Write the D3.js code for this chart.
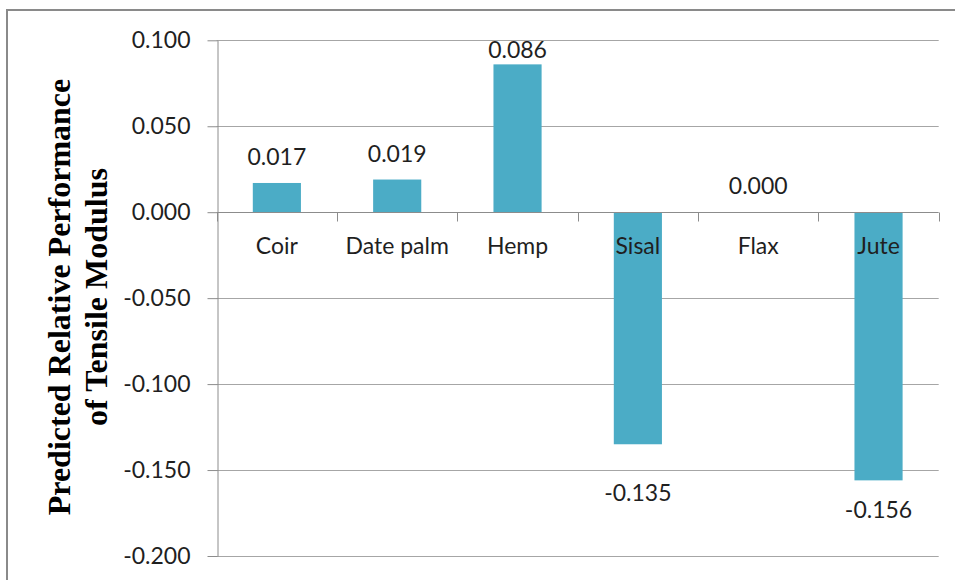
<!DOCTYPE html>
<html>
<head>
<meta charset="utf-8">
<script src="https://cdn.jsdelivr.net/npm/d3@7"></script>
<style>
  html, body { margin: 0; padding: 0; background: #fff; }
  svg { display: block; }
</style>
</head>
<body>
<svg id="chart" width="955" height="580"></svg>
<script>
// Fibre types and their predicted relative performance of tensile modulus
const categories = ["Coir", "Date palm", "Hemp", "Sisal", "Flax", "Jute"];
const values = [0.017, 0.019, 0.086, -0.135, 0.000, -0.156];
const yTicks = [0.100, 0.050, 0.000, -0.050, -0.100, -0.150, -0.200];
const titleLines = ["Predicted Relative Performance", "of Tensile Modulus"];

const W = 955, H = 580;
const plot = { left: 216.7, right: 938.7, top: 40.3, bottom: 556 };
const barColor = "#4bacc6";
const gridColor = "#a6a6a6";
const axisColor = "#8c8c8c";
const textColor = "#1f1f1f";
const labelFont = "Lato, 'Open Sans', sans-serif";

// Extra downward shift for a label that would otherwise sit on a gridline
const labelNudge = { "Sisal": 19 };

const svg = d3.select("#chart");

// Outer chart frame
svg.append("rect")
  .attr("x", 7).attr("y", 10)
  .attr("width", W).attr("height", H)
  .attr("fill", "none")
  .attr("stroke", "#8a8a8a")
  .attr("stroke-width", 2);

const x = d3.scaleBand()
  .domain(categories)
  .range([plot.left, plot.right])
  .paddingInner(0.6)
  .paddingOuter(0.3);

const y = d3.scaleLinear()
  .domain([-0.2, 0.1])
  .range([plot.bottom, plot.top]);

const fmt = v => d3.format(".3f")(Math.abs(v) < 1e-9 ? 0 : v).replace("\u2212", "-");

// Horizontal gridlines
svg.append("g")
  .selectAll("line")
  .data(yTicks.filter(t => t !== 0))
  .join("line")
  .attr("x1", plot.left).attr("x2", plot.right)
  .attr("y1", d => Math.round(y(d)) + 0.5)
  .attr("y2", d => Math.round(y(d)) + 0.5)
  .attr("stroke", gridColor)
  .attr("stroke-width", 1);

// Bars
const data = categories.map((c, i) => ({ cat: c, val: values[i] }));
svg.append("g")
  .selectAll("rect")
  .data(data)
  .join("rect")
  .attr("x", d => x(d.cat))
  .attr("width", x.bandwidth())
  .attr("y", d => Math.min(y(d.val), y(0)))
  .attr("height", d => Math.abs(y(d.val) - y(0)))
  .attr("fill", barColor);

// Y axis
const yAxis = d3.axisLeft(y)
  .tickValues(yTicks)
  .tickFormat(fmt)
  .tickSize(10)
  .tickSizeOuter(0)
  .tickPadding(17);

const gy = svg.append("g")
  .attr("transform", `translate(${Math.round(plot.left) + 0.5},0)`)
  .call(yAxis);
gy.select(".domain").attr("stroke", axisColor);
gy.selectAll(".tick line").attr("stroke", axisColor);
gy.selectAll(".tick text")
  .attr("fill", textColor)
  .style("font-family", labelFont)
  .style("font-size", "23px");

// X axis along zero with tick marks between categories
const zeroY = Math.round(y(0)) + 0.5;
svg.append("line")
  .attr("x1", plot.left).attr("x2", plot.right)
  .attr("y1", zeroY).attr("y2", zeroY)
  .attr("stroke", axisColor);

const step = x.step();
svg.append("g")
  .selectAll("line")
  .data(d3.range(categories.length + 1))
  .join("line")
  .attr("x1", i => Math.round(plot.left + i * step) + 0.5)
  .attr("x2", i => Math.round(plot.left + i * step) + 0.5)
  .attr("y1", zeroY)
  .attr("y2", zeroY + 9)
  .attr("stroke", axisColor);

// Value labels
svg.append("g")
  .selectAll("text")
  .data(data)
  .join("text")
  .attr("x", d => x(d.cat) + x.bandwidth() / 2)
  .attr("y", d => d.val >= 0
    ? Math.max(y(d.val) - 18, plot.top + 17.5)
    : y(d.val) + 38 + (labelNudge[d.cat] || 0))
  .attr("text-anchor", "middle")
  .attr("fill", textColor)
  .style("font-family", labelFont)
  .style("font-size", "23px")
  .text(d => fmt(d.val));

// Category labels, drawn over the bars
svg.append("g")
  .selectAll("text")
  .data(categories)
  .join("text")
  .attr("x", d => x(d) + x.bandwidth() / 2)
  .attr("y", y(0) + 42)
  .attr("text-anchor", "middle")
  .attr("fill", textColor)
  .style("font-family", labelFont)
  .style("font-size", "23px")
  .text(d => d);

// Y axis title, two lines rotated
const title = svg.append("text")
  .attr("transform", `translate(70,297) rotate(-90)`)
  .attr("text-anchor", "middle")
  .attr("fill", "#000")
  .style("font-family", "'Liberation Serif', 'Times New Roman', serif")
  .style("font-weight", "bold")
  .style("font-size", "32px");
title.selectAll("tspan")
  .data(titleLines)
  .join("tspan")
  .attr("x", 0)
  .attr("dy", (d, i) => i === 0 ? 0 : 37)
  .text(d => d);
</script>
</body>
</html>
